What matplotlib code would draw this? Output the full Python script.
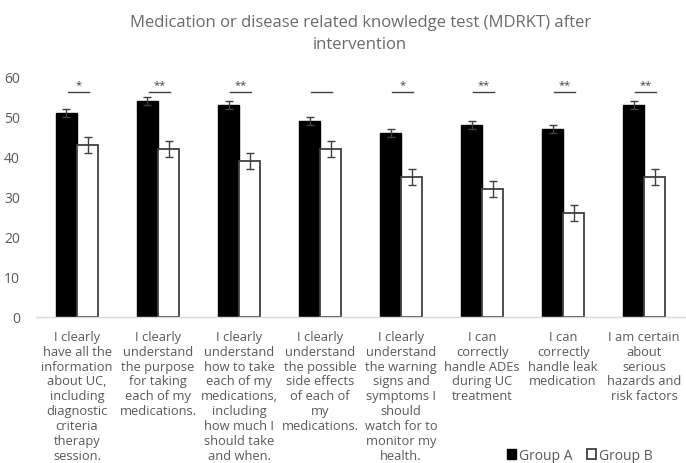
import matplotlib
matplotlib.use("Agg")
import matplotlib.pyplot as plt
import numpy as np
from matplotlib.patches import Patch

plt.rcParams['font.family'] = ['Open Sans', 'DejaVu Sans']

categories = [
    "I clearly\nhave all the\ninformation\nabout UC,\nincluding\ndiagnostic\ncriteria\ntherapy\nsession.",
    "I clearly\nunderstand\nthe purpose\nfor taking\neach of my\nmedications.",
    "I clearly\nunderstand\nhow to take\neach of my\nmedications,\nincluding\nhow much I\nshould take\nand when.",
    "I clearly\nunderstand\nthe possible\nside effects\nof each of\nmy\nmedications.",
    "I clearly\nunderstand\nthe warning\nsigns and\nsymptoms I\nshould\nwatch for to\nmonitor my\nhealth.",
    "I can\ncorrectly\nhandle ADEs\nduring UC\ntreatment",
    "I can\ncorrectly\nhandle leak\nmedication",
    "I am certain\nabout\nserious\nhazards and\nrisk factors",
]
group_a = [51, 54, 53, 49, 46, 48, 47, 53]
group_b = [43, 42, 39, 42, 35, 32, 26, 35]
err_a = [1, 1, 1, 1, 1, 1, 1, 1]
err_b = [2, 2, 2, 2, 2, 2, 2, 2]
significance = ["*", "**", "**", "", "*", "**", "**", "**"]
series_names = ["Group A", "Group B"]
yticks = [0, 10, 20, 30, 40, 50, 60]

text_gray = "#595959"

fig = plt.figure(figsize=(6.86, 4.64), dpi=100)
ax = fig.add_axes([0.0532, 0.3147, 0.9448, 0.5173])

x = np.arange(len(categories))
w = 0.26
ax.bar(x - w / 2, group_a, w, color="black", edgecolor="black", linewidth=1.0,
       yerr=err_a, error_kw=dict(ecolor="#404040", elinewidth=1.0, capsize=3, capthick=1.0))
ax.bar(x + w / 2, group_b, w, color="white", edgecolor="#404040", linewidth=1.3,
       yerr=err_b, error_kw=dict(ecolor="#404040", elinewidth=1.0, capsize=3, capthick=1.0))

# significance brackets between the paired bars
for i, s in enumerate(significance):
    ax.plot([x[i] - w / 2 + 0.02, x[i] + w / 2 + 0.02], [56.2, 56.2], color="#404040",
            linewidth=1.0, clip_on=False)
    if s:
        ax.text(x[i] + 0.02, 56.8, s, ha="center", va="bottom", fontsize=8,
                color="#404040", clip_on=False)

ax.set_xlim(-0.5, len(categories) - 0.5)
ax.set_ylim(0, 60)
ax.set_yticks(yticks)
ax.tick_params(axis="y", length=0, labelsize=10, labelcolor=text_gray, pad=12)
ax.set_xticks([])
for side in ["top", "right", "left"]:
    ax.spines[side].set_visible(False)
ax.spines["bottom"].set_color("#d9d9d9")
ax.spines["bottom"].set_linewidth(1.0)

for i, lab in enumerate(categories):
    ax.text(x[i], -3.2, lab, ha="center", va="top", fontsize=9.3, color=text_gray,
            linespacing=1.19, transform=ax.transData, clip_on=False)

fig.text(0.525, 0.968, "Medication or disease related knowledge test (MDRKT) after\nintervention",
         ha="center", va="top", fontsize=12, color="#6a6a6a", linespacing=1.55)

handles = [Patch(facecolor="black", edgecolor="black"),
           Patch(facecolor="white", edgecolor="#404040", linewidth=1.3)]
fig.legend(handles, series_names, loc="center", bbox_to_anchor=(0.845, 0.017),
           ncol=2, frameon=False, fontsize=10, labelcolor=text_gray,
           handlelength=0.7, handleheight=0.7, handletextpad=0.2, columnspacing=1.0,
           borderpad=0)

fig.savefig("out.png", dpi=100)
